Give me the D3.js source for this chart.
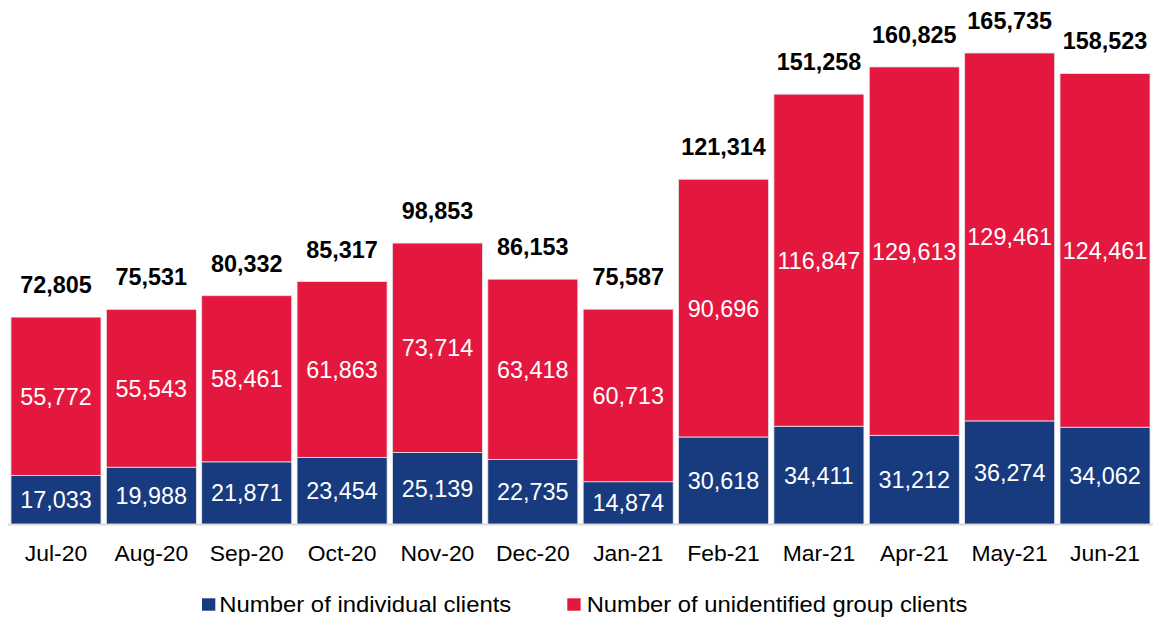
<!DOCTYPE html>
<html><head><meta charset="utf-8">
<script src="https://cdn.jsdelivr.net/npm/d3@7"></script>
<style>body{margin:0;background:#fff;}svg{display:block;font-family:"Liberation Sans",Arial,sans-serif;}</style>
</head><body><svg id="c" width="1153" height="621"></svg>
<script>
const categories=["Jul-20","Aug-20","Sep-20","Oct-20","Nov-20","Dec-20","Jan-21","Feb-21","Mar-21","Apr-21","May-21","Jun-21"];
const individual=[17033,19988,21871,23454,25139,22735,14874,30618,34411,31212,36274,34062];
const group=[55772,55543,58461,61863,73714,63418,60713,90696,116847,129613,129461,124461];
const totals=[72805,75531,80332,85317,98853,86153,75587,121314,151258,160825,165735,158523];
const seriesNames=["Number of individual clients","Number of unidentified group clients"];
const colors=["#183a7f","#e4183e"];

const svg=d3.select("#c");
const base=524;
const x=d3.scaleBand().domain(categories).range([8.3,1152.7]).paddingInner(0.056).paddingOuter(0.028);
const y=d3.scaleLinear().domain([0,165735]).range([base,base-471]);
const fmt=d3.format(",");

const data=categories.map((c,i)=>({c,ind:individual[i],grp:group[i],tot:totals[i]}));
const stack=d3.stack().keys(["ind","grp"])(data);

svg.append("line").attr("x1",8).attr("x2",1153).attr("y1",base+0.5).attr("y2",base+0.5).attr("stroke","#d9d9d9").attr("stroke-width",2);

stack.forEach((s,k)=>{
  const g=svg.append("g");
  g.selectAll("rect").data(s).enter().append("rect")
    .attr("x",d=>x(d.data.c)).attr("width",x.bandwidth())
    .attr("y",d=>y(d[1])).attr("height",d=>y(d[0])-y(d[1]))
    .attr("fill",colors[k]).attr("stroke","#e6e6e6").attr("stroke-width",0.8);
  g.selectAll("text").data(s).enter().append("text")
    .attr("x",d=>x(d.data.c)+x.bandwidth()/2)
    .attr("y",d=>(y(d[0])+y(d[1]))/2)
    .attr("dy","0.36em").attr("text-anchor","middle")
    .attr("fill","#fff").attr("font-size",23.4)
    .text(d=>fmt(d[1]-d[0]));
});

svg.append("g").selectAll("text").data(data).enter().append("text")
  .attr("x",d=>x(d.c)+x.bandwidth()/2).attr("y",d=>y(d.tot)-24)
  .attr("text-anchor","middle").attr("font-weight","bold").attr("font-size",23.4).attr("fill","#000")
  .text(d=>fmt(d.tot));

svg.append("g").selectAll("text").data(categories).enter().append("text")
  .attr("x",d=>x(d)+x.bandwidth()/2).attr("y",561)
  .attr("text-anchor","middle").attr("font-size",22.9).attr("fill","#000").text(d=>d);

const legX=[202,567.3];
const legTX=[219.3,586.7];
const legW=[292,380.6];
seriesNames.forEach((n,i)=>{
  svg.append("rect").attr("x",legX[i]).attr("y",598.3).attr("width",13.3).attr("height",12.4).attr("fill",colors[i]);
  svg.append("text").attr("x",legTX[i]).attr("y",611.5)
    .attr("font-size",22).attr("fill","#000")
    .attr("textLength",legW[i]).attr("lengthAdjust","spacingAndGlyphs").text(n);
});
</script></body></html>
